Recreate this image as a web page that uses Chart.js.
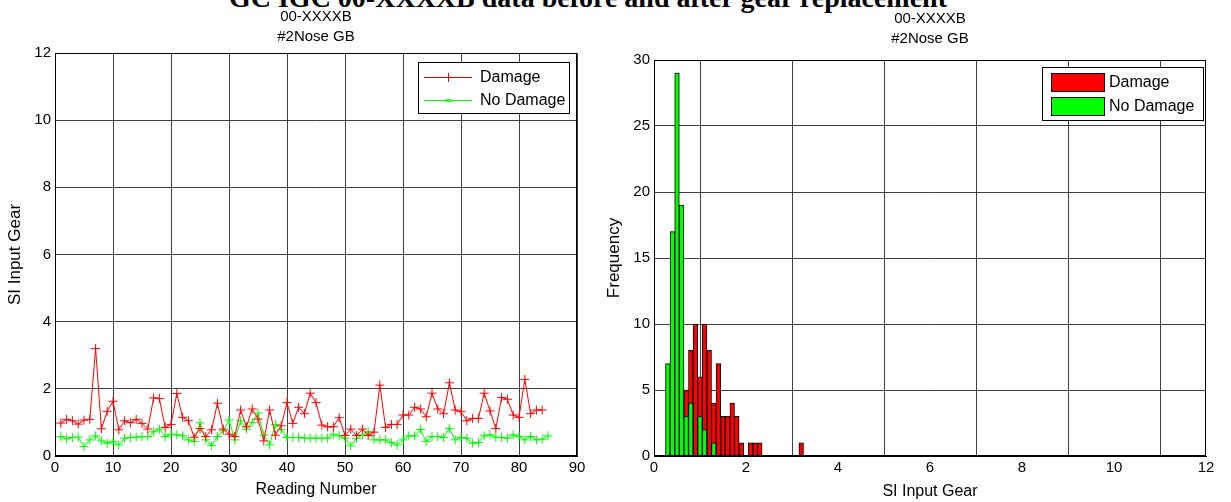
<!DOCTYPE html>
<html>
<head>
<meta charset="utf-8">
<script src="https://cdn.jsdelivr.net/npm/chart.js@4.4.1/dist/chart.umd.min.js"></script>
<style>
  html, body { margin: 0; padding: 0; background: #fff; }
  body { position: relative; width: 1231px; height: 502px; overflow: hidden; }
  #heading {
    position: absolute; left: 0; top: -16px; width: 1176px; text-align: center;
    font: bold 28px "Liberation Serif", "DejaVu Serif", serif; line-height: 28px;
    color: #000; white-space: nowrap; z-index: 0;
  }
  canvas { z-index: 1; }
  #trend { position: absolute; left: 0; top: 0; }
  #hist { position: absolute; left: 600px; top: 0; }
</style>
</head>
<body>
<div id="heading">GC IGC 00-XXXXB data before and after gear replacement</div>
<canvas id="trend" width="600" height="502"></canvas>
<canvas id="hist" width="631" height="502"></canvas>
<script>
// ---- data -------------------------------------------------------------
const subtitle = ['00-XXXXB', '#2Nose GB'];
const seriesNames = ['Damage', 'No Damage'];

// SI Input Gear value per reading (reading 1, 2, 3 ...)
const damageSI = [
  0.98, 1.09, 1.05, 0.95, 1.07, 1.09, 3.20, 0.81, 1.33, 1.63,
  0.78, 1.05, 0.99, 1.09, 0.97, 0.80, 1.73, 1.71, 0.85, 0.94,
  1.86, 1.15, 1.05, 0.56, 0.82, 0.58, 0.78, 1.57, 0.80, 0.65,
  0.58, 1.37, 0.87, 1.40, 1.10, 0.45, 1.37, 0.62, 0.90, 1.59,
  0.97, 1.45, 1.26, 1.87, 1.59, 0.92, 0.87, 0.87, 1.14, 0.61,
  0.80, 0.61, 0.80, 0.61, 0.71, 2.11, 0.85, 0.94, 0.94, 1.22,
  1.22, 1.45, 1.40, 1.17, 1.87, 1.40, 1.26, 2.18, 1.37, 1.32,
  1.05, 1.12, 1.12, 1.87, 1.34, 0.82, 1.74, 1.69, 1.22, 1.15,
  2.28, 1.26, 1.37, 1.37
];
const noDamageSI = [
  0.58, 0.51, 0.55, 0.56, 0.28, 0.48, 0.60, 0.45, 0.38, 0.43,
  0.33, 0.53, 0.55, 0.56, 0.58, 0.58, 0.72, 0.80, 0.58, 0.65,
  0.63, 0.60, 0.48, 0.43, 0.99, 0.48, 0.31, 0.58, 0.75, 1.07,
  0.48, 1.05, 0.80, 1.00, 1.28, 0.62, 0.33, 0.94, 0.78, 0.55,
  0.55, 0.55, 0.53, 0.53, 0.53, 0.53, 0.53, 0.65, 0.60, 0.53,
  0.30, 0.53, 0.63, 0.72, 0.48, 0.48, 0.48, 0.40, 0.33, 0.48,
  0.60, 0.60, 0.79, 0.43, 0.58, 0.58, 0.55, 0.82, 0.48, 0.55,
  0.53, 0.38, 0.40, 0.60, 0.63, 0.56, 0.55, 0.53, 0.63, 0.58,
  0.48, 0.58, 0.48, 0.50, 0.60
];

// histogram bin centres (SI Input Gear) and counts
const damageBins   = [0.5, 0.6, 0.7, 0.8, 0.9, 1.0, 1.1, 1.2, 1.3, 1.4, 1.5, 1.6, 1.7, 1.8, 1.9, 2.1, 2.2, 2.3, 3.2];
const damageFreq   = [1,   7,   5,   8,   10,  6,   10,  8,   4,   7,   3,   3,   4,   3,   1,   1,   1,   1,   1];
const noDamageBins = [0.3, 0.4, 0.5, 0.6, 0.7, 0.8, 1.0, 1.1, 1.3];
const noDamageFreq = [7,   17,  29,  19,  3,   4,   3,   2,   1];

// axis ticks
const readingTicks = [0, 10, 20, 30, 40, 50, 60, 70, 80, 90];
const trendTicks   = [0, 2, 4, 6, 8, 10, 12];
const siTicks      = [0, 2, 4, 6, 8, 10, 12];
const freqTicks    = [0, 5, 10, 15, 20, 25, 30];

// ---- styling helpers ---------------------------------------------------
const RED = '#ff0000';
const GREEN = '#00ff00';
const FONT = '"Liberation Sans", Arial, sans-serif';
const GRID = 'rgba(0,0,0,0.75)';

function fixedTicks(list) {
  return (scale) => { scale.ticks = list.map(v => ({ value: v })); };
}

function axisBox(chart) {
  const { ctx, chartArea: a } = chart;
  ctx.save();
  ctx.strokeStyle = '#000';
  ctx.lineWidth = 1;
  ctx.strokeRect(Math.round(a.left) + 0.5, Math.round(a.top) + 0.5,
                 Math.round(a.right - a.left) - 1, Math.round(a.bottom - a.top) - 1);
  ctx.restore();
}

function legendPlugin(o) {
  return {
    id: 'boxLegend',
    afterDraw(chart) {
      axisBox(chart);
      const { ctx, chartArea: a } = chart;
      ctx.save();
      ctx.font = '16px ' + FONT;
      const textW = Math.max(...chart.data.datasets.map(d => ctx.measureText(d.label).width));
      const w = Math.round(o.pad + o.sample + o.gap + textW + o.padR);
      const x = Math.round(a.right - o.right - w);
      const y = Math.round(a.top + o.top);
      ctx.fillStyle = '#fff';
      ctx.fillRect(x, y, w, o.h);
      ctx.strokeStyle = '#000';
      ctx.lineWidth = 1;
      ctx.strokeRect(x + 0.5, y + 0.5, w, o.h);
      chart.data.datasets.forEach((ds, i) => {
        const cy = y + o.row0 + i * o.rowGap;
        o.sampleFn(ctx, ds, x + o.pad, cy, o.sample, i);
        ctx.fillStyle = '#000';
        ctx.textBaseline = 'middle';
        ctx.textAlign = 'left';
        ctx.fillText(ds.label, x + o.pad + o.sample + o.gap, cy + 1);
      });
      ctx.restore();
    }
  };
}

function lineSample(ctx, ds, x, cy, len, i) {
  ctx.strokeStyle = ds.borderColor;
  ctx.lineWidth = 1;
  ctx.beginPath();
  ctx.moveTo(x, cy + 0.5); ctx.lineTo(x + len, cy + 0.5);
  ctx.stroke();
  const mx = Math.round(x + len / 2) + 0.5;
  if (i === 0) {
    ctx.beginPath();
    ctx.moveTo(mx - 4, cy + 0.5); ctx.lineTo(mx + 4, cy + 0.5);
    ctx.moveTo(mx, cy - 4); ctx.lineTo(mx, cy + 5);
    ctx.stroke();
  } else {
    ctx.lineWidth = 2.5;
    ctx.beginPath();
    ctx.moveTo(mx - 3, cy + 0.5); ctx.lineTo(mx + 3, cy + 0.5);
    ctx.stroke();
  }
}

function swatchSample(ctx, ds, x, cy, len) {
  ctx.fillStyle = ds.backgroundColor;
  ctx.fillRect(x, cy - 9, len, 18);
  ctx.strokeStyle = '#000';
  ctx.lineWidth = 1;
  ctx.strokeRect(x + 0.5, cy - 9 + 0.5, len, 18);
}

function baseScales(o) {
  return {
    x: {
      type: 'linear', min: o.xMin, max: o.xMax, offset: false,
      afterBuildTicks: fixedTicks(o.xTicks),
      afterFit: (s) => { s.height = 46; },
      grid: { color: GRID, lineWidth: 1, drawTicks: false },
      border: { display: true, color: '#000', width: 1 },
      ticks: { color: '#000', font: { family: FONT, size: 15 }, padding: 3, maxRotation: 0, autoSkip: false },
      title: { display: true, text: o.xTitle, color: '#000', font: { family: FONT, size: 16 }, padding: { top: 0, bottom: o.xTitlePad } }
    },
    y: {
      type: 'linear', min: o.yMin, max: o.yMax,
      afterBuildTicks: fixedTicks(o.yTicks),
      afterFit: (s) => { s.width = o.yWidth; },
      grid: { color: GRID, lineWidth: 1, drawTicks: false },
      border: { display: true, color: '#000', width: 1 },
      ticks: { color: '#000', font: { family: FONT, size: 15 }, padding: 4, autoSkip: false },
      title: { display: true, text: o.yTitle, color: '#000', font: { family: FONT, size: 17 }, padding: { top: o.yTitlePad, bottom: 0 } }
    }
  };
}

function titleOpts(top, bottom) {
  return {
    display: true, text: subtitle, color: '#000', fullSize: false,
    font: { family: FONT, size: 15, weight: 'normal', lineHeight: '20px' },
    padding: { top: top, bottom: bottom }
  };
}

// ---- SI Input Gear against reading number ------------------------------
new Chart(document.getElementById('trend'), {
  type: 'line',
  data: {
    datasets: [
      {
        label: seriesNames[0],
        data: damageSI.map((v, i) => ({ x: i + 1, y: v })),
        borderColor: RED, backgroundColor: RED, borderWidth: 1,
        pointStyle: 'cross', pointRadius: 4.5, pointBorderWidth: 1,
        pointBorderColor: RED, tension: 0, fill: false
      },
      {
        label: seriesNames[1],
        data: noDamageSI.map((v, i) => ({ x: i + 1, y: v })),
        borderColor: GREEN, backgroundColor: GREEN, borderWidth: 1,
        pointStyle: 'cross', pointRadius: 4.5, pointBorderWidth: 1,
        pointBorderColor: GREEN, tension: 0, fill: false
      }
    ]
  },
  options: {
    responsive: false, animation: false, devicePixelRatio: 1,
    layout: { padding: { left: 0, right: 23, top: 0, bottom: 0 } },
    plugins: {
      legend: { display: false }, tooltip: { enabled: false },
      title: titleOpts(7, 6)
    },
    scales: baseScales({
      xMin: 0, xMax: 90, xTicks: readingTicks, xTitle: 'Reading Number', xTitlePad: 3,
      yMin: 0, yMax: 12, yTicks: trendTicks, yTitle: 'SI Input Gear', yTitlePad: 5, yWidth: 55
    })
  },
  plugins: [legendPlugin({ pad: 6, sample: 48, gap: 8, padR: 4, right: 8, top: 9, h: 51, row0: 15, rowGap: 23, sampleFn: lineSample })]
});

// ---- Frequency of SI Input Gear values --------------------------------
new Chart(document.getElementById('hist'), {
  type: 'bar',
  data: {
    datasets: [
      {
        label: seriesNames[0], order: 1,
        data: damageBins.map((b, i) => ({ x: b, y: damageFreq[i] })),
        backgroundColor: RED, borderColor: '#000', borderWidth: 1,
        barPercentage: 1, categoryPercentage: 1, grouped: false
      },
      {
        label: seriesNames[1], order: 0,
        data: noDamageBins.map((b, i) => ({ x: b, y: noDamageFreq[i] })),
        backgroundColor: GREEN, borderColor: '#000', borderWidth: 1,
        barPercentage: 1, categoryPercentage: 1, grouped: false
      }
    ]
  },
  options: {
    responsive: false, animation: false, devicePixelRatio: 1,
    layout: { padding: { left: 0, right: 25, top: 0, bottom: 0 } },
    plugins: {
      legend: { display: false }, tooltip: { enabled: false },
      title: titleOpts(9, 11)
    },
    scales: baseScales({
      xMin: 0, xMax: 12, xTicks: siTicks, xTitle: 'SI Input Gear', xTitlePad: 1,
      yMin: 0, yMax: 30, yTicks: freqTicks, yTitle: 'Frequency', yTitlePad: 4, yWidth: 54
    })
  },
  plugins: [legendPlugin({ pad: 9, sample: 53, gap: 5, padR: 9, right: 3, top: 7, h: 53, row0: 15, rowGap: 24, sampleFn: swatchSample })]
});
</script>
</body>
</html>
